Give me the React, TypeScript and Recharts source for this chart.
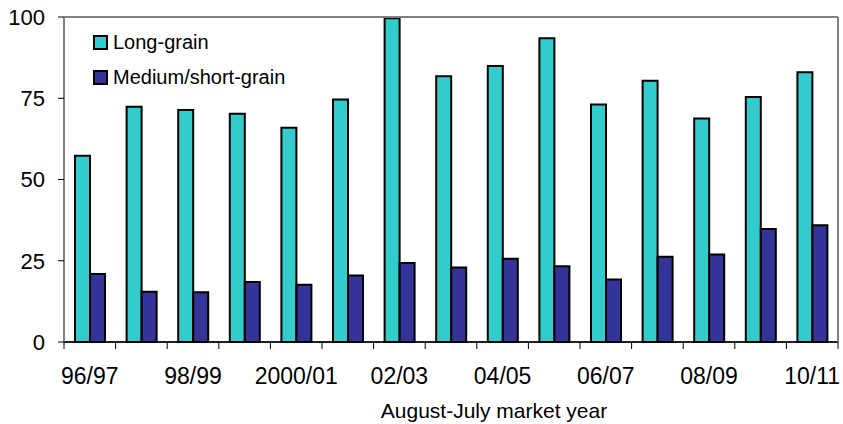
import React from "react";
import {
  BarChart,
  Bar,
  XAxis,
  YAxis,
  CartesianGrid,
  ReferenceLine,
} from "recharts";

// Market years (August-July)
const years = [
  "96/97", "97/98", "98/99", "99/2000", "2000/01", "01/02", "02/03", "03/04",
  "04/05", "05/06", "06/07", "07/08", "08/09", "09/10", "10/11",
];

// Only every other year gets a label
const labeledYears = ["96/97", "98/99", "2000/01", "02/03", "04/05", "06/07", "08/09", "10/11"];

const longGrain = [57.3, 72.4, 71.4, 70.2, 65.9, 74.6, 99.6, 81.8, 84.9, 93.5, 73.1, 80.4, 68.8, 75.4, 83.0];
const mediumShortGrain = [20.9, 15.5, 15.3, 18.5, 17.6, 20.5, 24.3, 22.9, 25.6, 23.3, 19.2, 26.2, 26.9, 34.8, 35.9];

const yTicks = [0, 25, 50, 75, 100];

const data = years.map((year, i) => ({
  year,
  long: longGrain[i],
  medium: mediumShortGrain[i],
}));

const CHART_W = 843;
const CHART_H = 424;
const Y_AXIS_W = 64;
const RIGHT_W = 5;
const FONT = '"Liberation Sans", Arial, sans-serif';
const BAND = (CHART_W - Y_AXIS_W - RIGHT_W) / years.length;

const TEAL = "#33CCCC";
const NAVY = "#333399";
const FRAME = "#808080";

const seriesList = [
  { key: "long", name: "Long-grain", color: TEAL },
  { key: "medium", name: "Medium/short-grain", color: NAVY },
];

// Category tick: boundary tick marks, label centered on the category
const YearTick = (props: any) => {
  const { x, y, payload, index } = props;
  const left = x - BAND / 2;
  const right = x + BAND / 2;
  const last = index === years.length - 1;
  return (
    <g>
      <line x1={left} y1={y} x2={left} y2={y + 7} stroke="#000" strokeWidth={1} />
      {last && <line x1={right} y1={y} x2={right} y2={y + 7} stroke="#000" strokeWidth={1} />}
      {labeledYears.includes(payload.value) && (
        <text x={x} y={y + 42} textAnchor="middle" fontFamily={FONT} fontSize={23} fill="#000">
          {payload.value}
        </text>
      )}
    </g>
  );
};

const LegendBox = () => (
  <div
    style={{
      position: "absolute",
      left: 93,
      top: 25,
      fontFamily: FONT,
      fontSize: 20,
      color: "#000",
      pointerEvents: "none",
    }}
  >
    {seriesList.map((s) => (
      <div key={s.key} style={{ display: "flex", alignItems: "center", height: 35 }}>
        <span
          style={{
            display: "inline-block",
            width: 11,
            height: 11,
            background: s.color,
            border: "2px solid #000",
            marginRight: 5,
          }}
        />
        <span>{s.name}</span>
      </div>
    ))}
  </div>
);

export default function App() {
  return (
    <div style={{ position: "absolute", left: 0, top: 0, width: CHART_W, height: CHART_H, background: "#fff" }}>
      <BarChart
        width={CHART_W}
        height={CHART_H}
        data={data}
        margin={{ top: 17, right: 0, left: 0, bottom: 0 }}
        barGap={0}
        barSize={15}
      >
        <CartesianGrid vertical={false} stroke="#000" strokeWidth={1} />
        <XAxis
          dataKey="year"
          interval={0}
          height={82}
          tickSize={0}
          tickMargin={0}
          tickLine={false}
          axisLine={{ stroke: "#000", strokeWidth: 1.5 }}
          tick={<YearTick />}
          label={{
            value: "August-July market year",
            position: "insideBottom",
            offset: 6,
            dx: 43,
            fontFamily: FONT,
            fontSize: 21,
            fill: "#000",
          }}
        />
        <YAxis
          yAxisId="left"
          width={Y_AXIS_W}
          domain={[0, 100]}
          ticks={yTicks}
          interval={0}
          tickSize={6}
          tickMargin={13}
          tickLine={{ stroke: "#000" }}
          axisLine={{ stroke: FRAME, strokeWidth: 2 }}
          tick={{ fontFamily: FONT, fontSize: 22, fill: "#000" }}
        />
        <YAxis
          yAxisId="right"
          orientation="right"
          width={RIGHT_W}
          domain={[0, 100]}
          tick={false}
          tickLine={false}
          axisLine={{ stroke: FRAME, strokeWidth: 2 }}
        />
        <ReferenceLine yAxisId="left" y={100} stroke={FRAME} strokeWidth={2} />
        {seriesList.map((s) => (
          <Bar
            key={s.key}
            yAxisId="left"
            dataKey={s.key}
            name={s.name}
            fill={s.color}
            stroke="#000"
            strokeWidth={2}
            isAnimationActive={false}
          />
        ))}
      </BarChart>
      <LegendBox />
    </div>
  );
}
